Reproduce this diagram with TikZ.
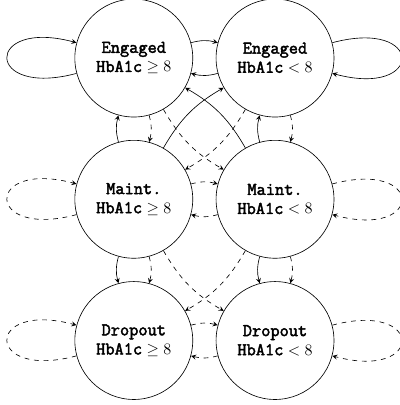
\documentclass[tikz,border=0pt]{standalone}
\usepackage{fontspec}
\setmonofont{Latin Modern Mono}[Scale=1.12, BoldFont={Latin Modern Mono}, BoldFeatures={FakeBold=2.5}]
\usetikzlibrary{positioning}

\begin{document}
\begin{tikzpicture}[>=stealth, node distance=0.5cm,
    state/.style={circle, draw, minimum size=2.6cm, align=center, font=\ttfamily\bfseries}]
\useasboundingbox (-2.95,1.28) rectangle (5.86,-7.65);

\node[state] (EG) at (0,0) {Engaged\\HbA1c$\;\geq 8$};
\node[state, right=of EG] (EL) {Engaged\\HbA1c$\;< 8$};
\node[state, below=of EG] (MG) {Maint.\\HbA1c$\;\geq 8$};
\node[state, below=of EL] (ML) {Maint.\\HbA1c$\;< 8$};
\node[state, below=of MG] (DG) {Dropout\\HbA1c$\;\geq 8$};
\node[state, below=of ML] (DL) {Dropout\\HbA1c$\;< 8$};

% solid moves
\draw[->] (EG) to[loop left] ();
\draw[->] (EL) to[loop right] ();
\foreach \a/\b in {EG/EL, EL/EG, MG/EG, ML/EL, MG/EL}
    \draw[->] (\a) to[bend left=15] (\b);
\foreach \a/\b in {ML/EG, MG/DG, ML/DL}
    \draw[->] (\a) to[bend right=15] (\b);

% dashed moves
\foreach \n in {MG, DG}
    \draw[->, dashed] (\n) to[loop left] ();
\foreach \n in {ML, DL}
    \draw[->, dashed] (\n) to[loop right] ();
\foreach \a/\b in {EG/MG, EL/ML, EL/MG, MG/ML, ML/MG, DG/DL, DL/DG, MG/DG, ML/DL, ML/DG}
    \draw[->, dashed] (\a) to[bend left=15] (\b);
\foreach \a/\b in {EG/ML, MG/DL}
    \draw[->, dashed] (\a) to[bend right=15] (\b);
\end{tikzpicture}
\end{document}
